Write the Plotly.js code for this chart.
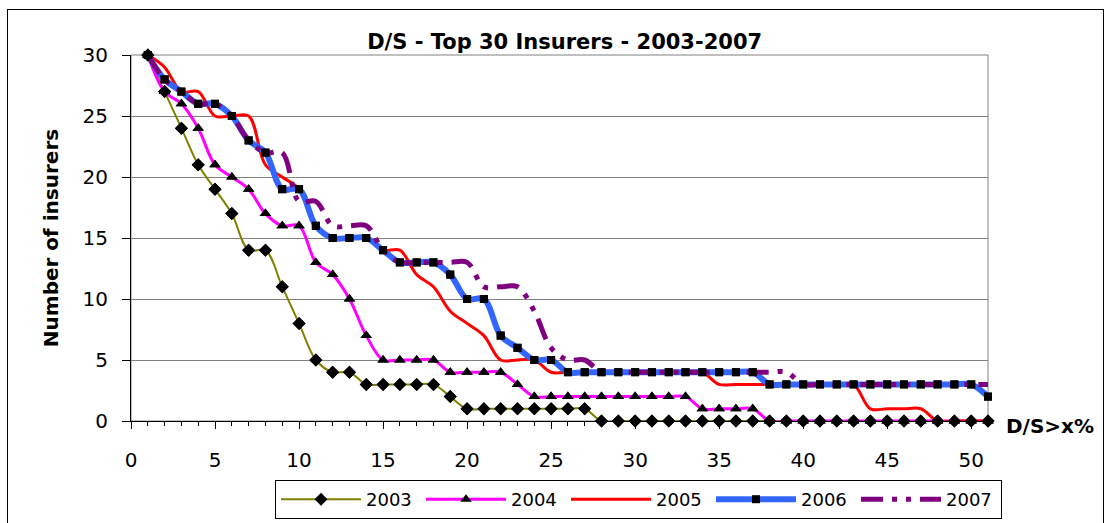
<!DOCTYPE html>
<html><head><meta charset="utf-8">
<script src="https://cdn.plot.ly/plotly-3.0.1.min.js"></script>
<style>
html,body{margin:0;padding:0;background:#fff;}
#wrap{position:relative;width:1112px;height:523px;overflow:hidden;}
#chart{width:1112px;height:523px;}
#frame{position:absolute;left:7px;top:9px;width:1097px;height:540px;border:1px solid #000;box-sizing:border-box;pointer-events:none;}
</style></head><body>
<div id="wrap"><div id="chart"></div><div id="frame"></div></div>
<script>
// D/S threshold (x %)
const thresholds = [1,2,3,4,5,6,7,8,9,10,11,12,13,14,15,16,17,18,19,20,21,22,23,24,25,26,27,28,29,30,31,32,33,34,35,36,37,38,39,40,41,42,43,44,45,46,47,48,49,50,51];
const s2003 = [30,27,24,21,19,17,14,14,11,8, 5,4,4,3,3,3,3,3,2,1, 1,1,1,1,1,1,1,0,0,0, 0,0,0,0,0,0,0,0,0,0, 0,0,0,0,0,0,0,0,0,0,0];
const s2004 = [30,27,26,24,21,20,19,17,16,16, 13,12,10,7,5,5,5,5,4,4, 4,4,3,2,2,2,2,2,2,2, 2,2,2,1,1,1,1,0,0,0, 0,0,0,0,0,0,0,0,0,0,0];
const s2005 = [30,29,27,27,25,25,25,21,20,19, 16,15,15,15,14,14,12,11,9,8, 7,5,5,5,4,4,4,4,4,4, 4,4,4,4,3,3,3,3,3,3, 3,3,3,1,1,1,1,0,0,0,0];
const s2006 = [30,28,27,26,26,25,23,22,19,19, 16,15,15,15,14,13,13,13,12,10, 10,7,6,5,5,4,4,4,4,4, 4,4,4,4,4,4,4,3,3,3, 3,3,3,3,3,3,3,3,3,3,2];
const s2007 = [30,28,27,26,26,25,23,22,22,18, 18,16,16,16,14,13,13,13,13,13, 11,11,11,9,6,5,5,4,4,4, 4,4,4,4,4,4,4,4,4,3, 3,3,3,3,3,3,3,3,3,3,3];
const seriesNames = ['2003','2004','2005','2006','2007'];
const xTickVals = [0,5,10,15,20,25,30,35,40,45,50];
const yTickVals = [0,5,10,15,20,25,30];

const FONT = 'DejaVu Sans';
const lineStyles = [
  {color:'#808000', width:2},
  {color:'#FF00FF', width:3},
  {color:'#FF0000', width:3},
  {color:'#3366FF', width:6},
  {color:'#800080', width:5, dash:'22px,9px,5px,9px,5px,9px'}
];
const markerStyles = [
  {symbol:'diamond', size:10, color:'#000'},
  {symbol:'triangle-up', size:10, color:'#000'},
  null,
  {symbol:'square', size:8, color:'#000'},
  null
];
const allSeries = [s2003, s2004, s2005, s2006, s2007];

const traces = [];
allSeries.forEach((s, i) => {
  const ls = Object.assign({shape:'spline', smoothing:1}, lineStyles[i]);
  const t = {x: thresholds, y: s, name: seriesNames[i], type:'scatter',
    mode: markerStyles[i] ? 'lines+markers' : 'lines', line: ls, cliponaxis:false};
  if (markerStyles[i]) t.marker = markerStyles[i];
  traces.push(t);
});
allSeries.forEach((s, i) => {
  if (!markerStyles[i]) return;
  traces.push({x: thresholds, y: s, type:'scatter', mode:'markers', marker: markerStyles[i],
    showlegend:false, hoverinfo:'skip', cliponaxis:false});
});

const layout = {
  width:1112, height:523,
  margin:{l:131, r:124, t:55, b:102, autoexpand:false},
  paper_bgcolor:'#fff', plot_bgcolor:'#fff',
  font:{family:FONT, color:'#000', size:20},
  title:{text:'D/S - Top 30 Insurers - 2003-2007', font:{family:FONT, size:21, weight:'bold', color:'#000'},
    x:0.506, xref:'paper', xanchor:'center', y:1-42/523, yref:'container', yanchor:'middle'},
  xaxis:{range:[0,51], tickmode:'array', tickvals:xTickVals, ticktext:xTickVals.map(String),
    ticks:'outside', ticklen:7, tickcolor:'#000', tickwidth:1,
    showline:true, linecolor:'#000', linewidth:1, showgrid:false, zeroline:false,
    minor:{dtick:1, tick0:0, ticks:'outside', ticklen:4, tickcolor:'#000', showgrid:false},
    tickfont:{family:FONT, size:20}, ticklabelstandoff:14, fixedrange:true, automargin:false},
  yaxis:{range:[0,30], tickmode:'array', tickvals:yTickVals, ticktext:yTickVals.map(String),
    ticks:'outside', ticklen:8, tickcolor:'#000',
    showline:true, linecolor:'#000', linewidth:1, showgrid:true, gridcolor:'#808080', gridwidth:1, zeroline:false,
    tickfont:{family:FONT, size:20}, ticklabelstandoff:10, automargin:false,
    title:{text:'Number of insurers', font:{family:FONT, size:20, weight:'bold'}, standoff:18}, fixedrange:true},
  legend:{orientation:'h', x:(275-131)/857, xanchor:'left', y:(421-480)/366, yanchor:'top',
    bordercolor:'#000', borderwidth:1, bgcolor:'#fff', font:{family:FONT, size:18},
    itemwidth:80, entrywidth:50, entrywidthmode:'pixels', traceorder:'normal', itemclick:false},
  shapes:[{type:'rect', xref:'paper', yref:'paper', x0:0, x1:1, y0:0, y1:1, line:{color:'#808080', width:1}, layer:'below'}],
  annotations:[{text:'D/S>x%', xref:'paper', yref:'paper', x:(1050-131)/857, y:(421-426)/366,
    xanchor:'center', yanchor:'middle', showarrow:false, font:{family:FONT, size:20, weight:'bold'}}],
  showlegend:true
};
Plotly.newPlot('chart', traces, layout, {displayModeBar:false, staticPlot:true});
</script>
</body></html>
